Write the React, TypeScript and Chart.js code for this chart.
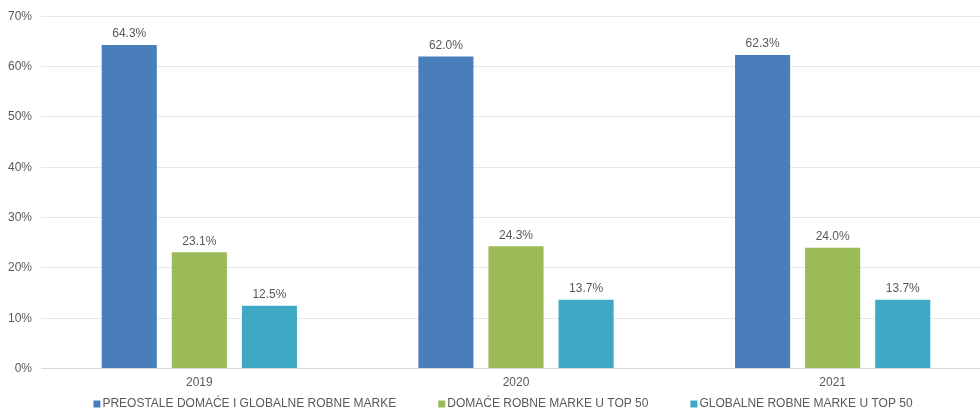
import React, { useEffect, useRef } from "react";
import { Chart, registerables } from "chart.js";

Chart.register(...registerables);

const categories = ["2019", "2020", "2021"];
const seriesNames = [
  "PREOSTALE DOMAĆE I GLOBALNE ROBNE MARKE",
  "DOMAĆE ROBNE MARKE U TOP 50",
  "GLOBALNE ROBNE MARKE U TOP 50",
];
const preostale = [64.3, 62.0, 62.3];
const domace = [23.1, 24.3, 24.0];
const globalne = [12.5, 13.7, 13.7];
const seriesColors = ["#4a7ebb", "#9bbb59", "#3fa9c5"];
const yMax = 70;
const yStep = 10;

const FONT = "'Liberation Sans', Arial, sans-serif";
const TEXT = "#595959";

const valueLabels = {
  id: "valueLabels",
  afterDatasetsDraw(chart: any) {
    const ctx = chart.ctx;
    ctx.save();
    ctx.font = `12px ${FONT}`;
    ctx.fillStyle = TEXT;
    ctx.textAlign = "center";
    ctx.textBaseline = "bottom";
    chart.data.datasets.forEach((ds: any, i: number) => {
      const meta = chart.getDatasetMeta(i);
      meta.data.forEach((el: any, j: number) => {
        ctx.fillText(ds.data[j].toFixed(1) + "%", el.x, el.y - 5);
      });
    });
    ctx.restore();
  },
};

const customLegend = {
  id: "customLegend",
  afterDraw(chart: any) {
    const ctx = chart.ctx;
    ctx.save();
    ctx.font = `12px ${FONT}`;
    const box = 7;
    const gapBox = 2;
    const gapItem = 42;
    const widths = seriesNames.map((n) => box + gapBox + ctx.measureText(n).width);
    const total = widths.reduce((a, b) => a + b, 0) + gapItem * (widths.length - 1);
    let x = 503 - total / 2;
    const y = 404;
    ctx.textBaseline = "middle";
    ctx.textAlign = "left";
    seriesNames.forEach((n, i) => {
      ctx.fillStyle = seriesColors[i];
      ctx.fillRect(x, y - box / 2, box, box);
      ctx.fillStyle = TEXT;
      ctx.fillText(n, x + box + gapBox, y);
      x += widths[i] + gapItem;
    });
    ctx.restore();
  },
};

export default function App() {
  const ref = useRef<HTMLCanvasElement>(null);
  useEffect(() => {
    document.body.style.overflow = "hidden";
    const chart = new Chart(ref.current!, {
      type: "bar",
      data: {
        labels: categories,
        datasets: [preostale, domace, globalne].map((d, i) => ({
          label: seriesNames[i],
          data: d,
          backgroundColor: seriesColors[i],
          borderWidth: 0,
          barPercentage: 0.786,
          categoryPercentage: 0.664,
        })),
      },
      options: {
        responsive: false,
        animation: false,
        layout: { padding: { top: 9, right: 1, bottom: 13, left: 0 } },
        plugins: {
          legend: { display: false },
          tooltip: { enabled: false },
        },
        scales: {
          x: {
            grid: { display: false, drawTicks: false },
            border: { display: true, color: "#d9d9d9" },
            ticks: { color: TEXT, font: { family: FONT, size: 12 }, padding: 7, maxRotation: 0 },
          },
          y: {
            min: 0,
            max: yMax,
            ticks: {
              stepSize: yStep,
              color: TEXT,
              font: { family: FONT, size: 12 },
              padding: 9,
              callback: (v: any) => v + "%",
            },
            grid: { color: "#e8e8e8", drawTicks: false },
            border: { display: false },
            afterFit(scale: any) {
              scale.width = 41;
            },
          },
        },
      },
      plugins: [valueLabels, customLegend],
    });
    return () => chart.destroy();
  }, []);
  return (
    <div style={{ position: "fixed", left: 0, top: 0, width: 992, height: 410, background: "#fff" }}>
      <canvas ref={ref} width={992} height={410} />
    </div>
  );
}
